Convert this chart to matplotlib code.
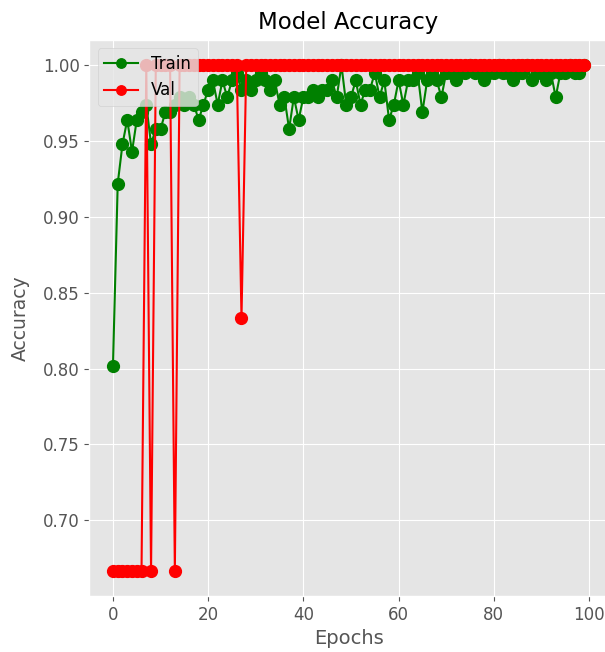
import numpy as np
import matplotlib.pyplot as plt

# training history (100 epochs)
epochs = list(range(100))

train_acc = [
	0.802, 0.922, 0.948, 0.964, 0.943, 0.964, 0.969, 0.974, 0.948, 0.958,
	0.958, 0.969, 0.969, 0.974, 0.979, 0.974, 0.979, 0.974, 0.964, 0.974,
	0.984, 0.990, 0.974, 0.990, 0.979, 0.990, 0.995, 0.984, 0.990, 0.984,
	0.990, 0.995, 0.990, 0.984, 0.990, 0.974, 0.979, 0.958, 0.979, 0.964,
	0.979, 0.979, 0.984, 0.979, 0.984, 0.984, 0.990, 0.979, 1.000, 0.974,
	0.979, 0.990, 0.974, 0.984, 0.984, 0.995, 0.979, 0.990, 0.964, 0.974,
	0.990, 0.974, 0.990, 0.990, 0.995, 0.969, 0.990, 0.995, 0.990, 0.979,
	0.995, 0.995, 0.990, 0.995, 0.995, 1.000, 0.995, 0.995, 0.990, 0.995,
	0.995, 1.000, 0.995, 0.995, 0.990, 0.995, 0.995, 1.000, 0.990, 0.995,
	0.995, 0.990, 0.995, 0.979, 0.995, 0.995, 1.000, 0.995, 0.995, 1.000,
]

val_acc = [
	0.6667, 0.6667, 0.6667, 0.6667, 0.6667, 0.6667, 0.6667, 1.0, 0.6667, 1.0,
	1.0, 1.0, 1.0, 0.6667, 1.0, 1.0, 1.0, 1.0, 1.0, 1.0,
	1.0, 1.0, 1.0, 1.0, 1.0, 1.0, 1.0, 0.8333, 1.0, 1.0,
] + [1.0] * 70

plt.style.use("ggplot")

fig = plt.figure(figsize=(6.05, 6.52), dpi=100)
ax = fig.add_axes([89.4 / 605, 56 / 652, 518.4 / 605, 556 / 652])

ax.plot(epochs, train_acc, "o-", color="green", markersize=8.5, label="Train")
ax.plot(epochs, val_acc, "o-", color="red", markersize=8.5, label="Val")

ax.set_title("Model Accuracy", fontsize=16.5, pad=8)
ax.set_xlabel("Epochs", fontsize=14)
ax.set_ylabel("Accuracy", fontsize=13.5, labelpad=9)
ax.tick_params(labelsize=12)
ax.legend(loc="upper left", fontsize=12, markerscale=0.8)

fig.savefig("out.png", dpi=100)
